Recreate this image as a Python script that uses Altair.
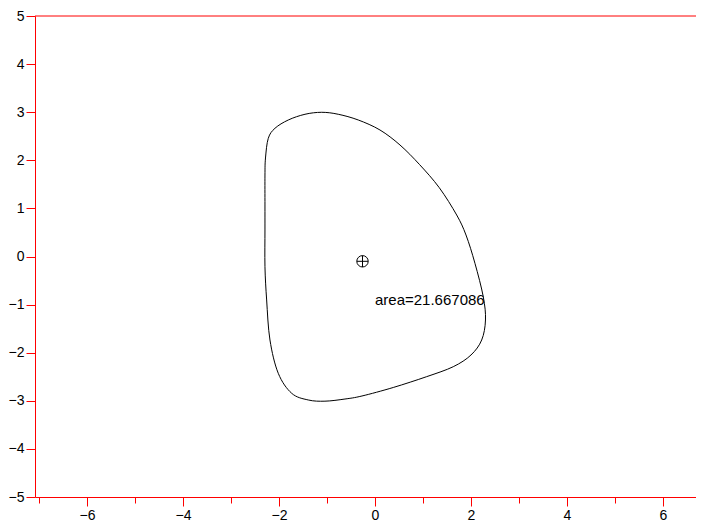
import altair as alt
import pandas as pd

# Closed contour, clockwise starting on the left side
curve_x = [-2.257, -2.292, -2.292, -2.292, -2.292, -2.281, -2.223, -2.083, -1.806, -1.458,
           -1.110, -0.765, -0.348, 0.104, 0.521, 0.930, 1.340, 1.702, 1.896, 2.083,
           2.256, 2.302, 2.223, 2.000, 1.631, 1.077, 0.381, -0.271, -0.625, -1.042,
           -1.390, -1.735, -2.015, -2.188]
curve_y = [-0.904, -0.212, 0.551, 1.071, 1.694, 2.048, 2.457, 2.666, 2.838, 2.957,
           2.998, 2.957, 2.838, 2.630, 2.318, 1.910, 1.430, 0.863, 0.447, -0.142,
           -0.837, -1.320, -1.736, -2.048, -2.291, -2.498, -2.723, -2.900, -2.963, -3.008,
           -2.983, -2.844, -2.428, -1.736]

# Centroid marker and area annotation
center_x = [-0.26]
center_y = [-0.10]
label_text = ["area=21.667086"]
label_x = [0.0]
label_y = [-1.0]

# Axis ticks
x_ticks = [-7, -6, -5, -4, -3, -2, -1, 0, 1, 2, 3, 4, 5, 6]
y_ticks = [-5, -4.5, -4, -3.5, -3, -2.5, -2, -1.5, -1, -0.5, 0,
           0.5, 1, 1.5, 2, 2.5, 3, 3.5, 4, 4.5, 5]
x_domain = [-7.083, 6.688]
y_domain = [-5, 5]

FONT = "Liberation Sans"
RED = "#ff0000"

curve_df = pd.DataFrame({"x": curve_x, "y": curve_y, "i": list(range(len(curve_x)))})
center_df = pd.DataFrame({"x": center_x, "y": center_y})
label_df = pd.DataFrame({"x": label_x, "y": label_y, "t": label_text})

xscale = alt.Scale(domain=x_domain, nice=False, zero=False)
yscale = alt.Scale(domain=y_domain, nice=False, zero=False)

xaxis = alt.Axis(
    values=x_ticks, title=None, grid=False,
    domainColor=RED, domainWidth=1, tickColor=RED, tickWidth=1,
    tickSize={"condition": {"test": "datum.value % 2 === 0", "value": 9}, "value": 6},
    labelExpr="datum.value % 2 === 0 ? datum.label : ''",
    labelFont=FONT, labelFontSize=14, labelColor="black",
    labelPadding=2, labelFlush=False, labelOverlap=False,
)
yaxis = alt.Axis(
    values=y_ticks, title=None, grid=False,
    domainColor=RED, domainWidth=1, tickColor=RED, tickWidth=1,
    tickSize={"condition": {"test": "datum.value % 1 === 0", "value": 9}, "value": 6},
    labelExpr="datum.value % 1 === 0 ? datum.label : ''",
    labelFont=FONT, labelFontSize=14, labelColor="black",
    labelPadding=2, labelFlush=False, labelOverlap=False,
)

curve = alt.Chart(curve_df).mark_line(
    color="black", strokeWidth=1, interpolate="cardinal-closed", tension=0.0
).encode(
    x=alt.X("x:Q", scale=xscale, axis=xaxis),
    y=alt.Y("y:Q", scale=yscale, axis=yaxis),
    order="i:Q",
)

top_line = alt.Chart(center_df).mark_rule(color=RED, strokeWidth=1).encode(
    y=alt.datum(y_domain[1])
)

circ = alt.Chart(center_df).mark_point(
    shape="circle", filled=False, color="black", strokeWidth=1, size=130, opacity=1
).encode(x="x:Q", y="y:Q")

plus = alt.Chart(center_df).mark_point(
    shape="M-1,0L1,0M0,-1L0,1", filled=False, color="black", strokeWidth=1, size=130, opacity=1
).encode(x="x:Q", y="y:Q")

txt = alt.Chart(label_df).mark_text(
    align="left", baseline="alphabetic", font=FONT, fontSize=15, color="black"
).encode(x="x:Q", y="y:Q", text="t:N")

chart = alt.layer(curve, top_line, circ, plus, txt).properties(
    width=661, height=481,
    autosize=alt.AutoSizeParams(type="none"),
    padding={"left": 27, "top": 8, "right": 0, "bottom": 30},
).configure_view(stroke="transparent")

chart.save("out.html", embed_options={"renderer": "svg", "actions": False})
